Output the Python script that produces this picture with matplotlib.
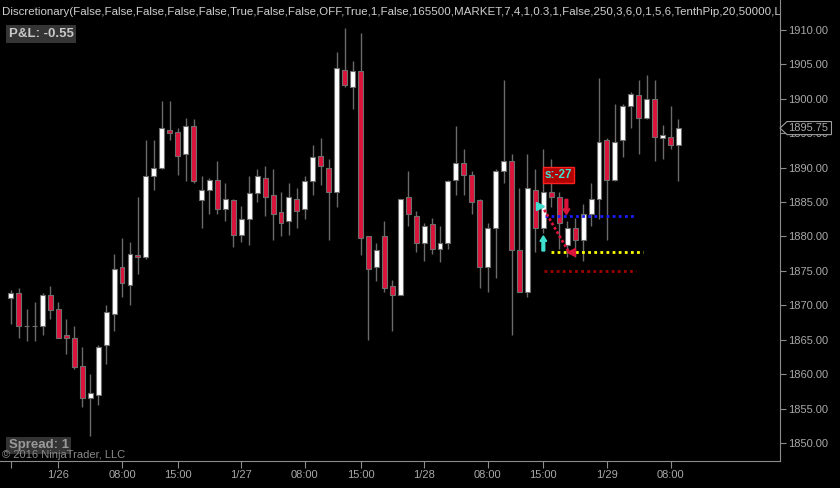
import numpy as np
import matplotlib
matplotlib.use('Agg')
from matplotlib import pyplot as plt
from matplotlib.patches import Polygon, FancyArrow

plt.rcParams['font.family'] = ['Liberation Sans', 'DejaVu Sans']

# hourly OHLC bars
opens = [1871.0, 1871.75, 1867.0, 1867.0, 1867.0, 1871.5, 1869.5, 1865.75, 1865.25, 1861.25,
         1856.5, 1857.0, 1864.25, 1868.75, 1875.5, 1873.0, 1877.25, 1877.0, 1888.75, 1890.0,
         1895.5, 1895.25, 1892.0, 1896.0, 1885.25, 1886.75, 1888.25, 1884.0, 1885.25, 1880.25,
         1882.5, 1886.25, 1888.5, 1886.0, 1883.5, 1882.25, 1885.5, 1884.0, 1888.0, 1891.75,
         1890.0, 1886.5, 1904.25, 1901.75, 1904.0, 1880.0, 1875.5, 1880.0, 1872.75, 1871.5,
         1885.75, 1883.0, 1879.0, 1881.75, 1878.25, 1879.0, 1888.25, 1890.75, 1889.0, 1885.25,
         1875.5, 1881.25, 1889.5, 1891.0, 1878.0, 1872.0, 1886.75, 1881.25, 1886.5, 1885.75,
         1878.75, 1881.25, 1879.5, 1883.25, 1885.5, 1894.0, 1888.25, 1894.0, 1899.0, 1900.5,
         1897.25, 1900.0, 1894.25, 1894.5, 1893.25]
highs = [1872.25, 1872.5, 1869.5, 1870.5, 1871.75, 1872.75, 1870.5, 1868.0, 1867.0, 1864.0,
         1860.0, 1864.25, 1870.0, 1877.5, 1879.75, 1879.25, 1885.75, 1894.0, 1894.0, 1899.75,
         1899.75, 1895.75, 1897.25, 1897.0, 1888.75, 1888.5, 1891.0, 1887.75, 1885.5, 1884.5,
         1888.75, 1889.75, 1890.25, 1889.75, 1886.5, 1887.75, 1887.0, 1888.75, 1893.25, 1894.25,
         1891.25, 1906.75, 1910.25, 1905.5, 1909.5, 1880.0, 1879.0, 1882.25, 1873.75, 1885.5,
         1889.5, 1883.75, 1882.0, 1882.75, 1881.5, 1888.25, 1896.0, 1892.75, 1889.5, 1885.5,
         1882.0, 1889.75, 1902.75, 1892.0, 1887.0, 1892.0, 1889.75, 1892.75, 1891.25, 1886.5,
         1882.25, 1882.75, 1884.75, 1887.75, 1903.0, 1894.25, 1899.25, 1899.25, 1901.0, 1902.75,
         1903.5, 1902.75, 1896.25, 1899.0, 1897.0]
lows = [1867.25, 1865.25, 1864.75, 1864.75, 1865.75, 1868.0, 1865.25, 1863.0, 1860.75, 1855.25,
        1851.0, 1855.5, 1861.5, 1866.25, 1871.25, 1870.0, 1874.5, 1876.75, 1886.75, 1889.75,
        1894.0, 1889.0, 1888.0, 1887.75, 1881.25, 1883.25, 1883.25, 1882.25, 1878.5, 1879.25,
        1878.75, 1885.0, 1883.0, 1879.5, 1880.0, 1880.25, 1881.25, 1882.5, 1886.0, 1887.5,
        1879.5, 1884.25, 1901.75, 1898.5, 1877.25, 1865.0, 1873.5, 1872.0, 1866.25, 1871.5,
        1881.5, 1877.75, 1876.5, 1877.5, 1876.25, 1878.25, 1886.0, 1886.0, 1883.25, 1872.5,
        1872.0, 1874.0, 1887.75, 1865.75, 1872.0, 1871.25, 1877.75, 1880.5, 1884.25, 1878.25,
        1877.0, 1877.0, 1876.5, 1881.5, 1882.5, 1879.5, 1888.0, 1891.5, 1895.75, 1892.0,
        1897.0, 1891.0, 1891.25, 1892.75, 1888.0]
closes = [1871.75, 1867.0, 1867.0, 1867.0, 1871.5, 1869.25, 1865.25, 1865.25, 1861.0, 1856.5,
          1857.25, 1864.0, 1869.0, 1875.25, 1873.25, 1877.5, 1877.0, 1888.75, 1890.0, 1895.75,
          1895.0, 1891.75, 1896.0, 1888.0, 1886.75, 1888.25, 1884.0, 1885.5, 1880.25, 1882.5,
          1886.25, 1888.75, 1885.75, 1883.25, 1882.0, 1885.75, 1883.75, 1888.0, 1891.5, 1890.25,
          1886.5, 1904.5, 1902.0, 1904.0, 1879.75, 1875.25, 1878.0, 1872.5, 1871.5, 1885.5,
          1883.25, 1879.0, 1881.5, 1878.25, 1879.0, 1888.0, 1890.75, 1889.0, 1885.0, 1875.5,
          1881.25, 1889.5, 1891.0, 1878.0, 1872.0, 1887.0, 1881.25, 1886.5, 1885.75, 1882.0,
          1881.25, 1879.5, 1883.25, 1885.5, 1893.75, 1888.25, 1893.75, 1899.0, 1900.75, 1897.25,
          1900.0, 1894.5, 1894.75, 1893.25, 1895.75]

# time axis labels (bar index -> label)
tick_bars = [0, 6, 14, 21, 29, 37, 44, 52, 60, 67, 75, 83]
tick_labels = ['', '1/26', '08:00', '15:00', '1/27', '08:00', '15:00', '1/28', '08:00', '15:00', '1/29', '08:00']

# trade drawn by the strategy
entry_bar, entry_price = 67, 1884.5
exit_bar, exit_price = 70, 1877.75
label_bar, label_price, label_text = 68.9, 1888.9, 's:-27'
# dotted levels: (price, start bar, end bar, colour)
level_prices = [1883.0, 1877.75, 1875.0]
level_starts = [67.2, 68.0, 67.1]
level_ends = [78.6, 79.5, 78.6]
level_colors = ['#1c1cff', '#ffff00', '#a00000']

title = ('Discretionary(False,False,False,False,False,True,False,False,OFF,True,1,False,165500,'
         'MARKET,7,4,1,0.3,1,False,250,3,6,0,1,5,6,TenthPip,20,50000,LONG)')
pnl_text = 'P&L: -0.55'
spread_text = 'Spread: 1'

o = np.array(opens)
h = np.array(highs)
l = np.array(lows)
c = np.array(closes)
x = np.arange(len(o))

fig = plt.figure(figsize=(8.4, 4.88), dpi=100, facecolor='black')
ax = fig.add_axes([0, 27 / 488, 780 / 840, 461 / 488])
ax.set_facecolor('black')

# candles
ax.vlines(x, l, h, color='#6a6a6a', lw=1, zorder=1)
body_col = np.where(c >= o, '#ffffff', '#dc143c')
ax.bar(x, np.abs(c - o), bottom=np.minimum(o, c), width=0.62, color=body_col,
       edgecolor='#6e6e6e', linewidth=0.8, zorder=2)

# levels
for p, s, e, col in zip(level_prices, level_starts, level_ends, level_colors):
    ax.plot([s, e], [p, p], color=col, lw=2, linestyle=(0, (1, 1.2)), zorder=3)

# entry -> exit
ax.plot([entry_bar - 0.2, exit_bar + 0.2], [entry_price, exit_price], color='#dc143c',
        lw=2, linestyle=(0, (1, 0.8)), zorder=4)
ax.plot(entry_bar - 0.45, entry_price, marker='>', color='#40e0d0', markersize=6, zorder=5)
ax.plot(exit_bar + 0.45, exit_price, marker='<', color='#dc143c', markersize=6, zorder=5)
ax.add_patch(FancyArrow(entry_bar, entry_price - 6.6, 0, 2.2, width=0.35, head_width=0.85,
                        head_length=0.8, length_includes_head=True, color='#40e0d0', zorder=5))
ax.add_patch(FancyArrow(exit_bar - 0.1, entry_price + 0.9, 0, -2.2, width=0.35, head_width=0.85,
                        head_length=0.8, length_includes_head=True, color='#dc143c', zorder=5))
ax.text(label_bar, label_price, label_text, color='#40e0d0', fontsize=8.5, fontweight='bold',
        ha='center', va='center', zorder=6,
        bbox=dict(boxstyle='square,pad=0.15', fc='#b00000', ec='#ff2020', lw=1))

ax.set_xlim(-1.35, 96.77)
ax.set_ylim(1847.385, 1914.358)

# axes styling
for s in ['left', 'top']:
    ax.spines[s].set_visible(False)
for s in ['right', 'bottom']:
    ax.spines[s].set_color('#8c8c8c')
ax.yaxis.tick_right()
ax.set_yticks(np.arange(1850, 1911, 5))
ax.set_yticklabels(['%.2f' % v for v in np.arange(1850, 1911, 5)])
ax.set_xticks(tick_bars)
ax.set_xticklabels(tick_labels)
ax.tick_params(axis='y', colors='#8c8c8c', labelcolor='#a8a8a8', labelsize=8, length=4.5, pad=1)
ax.tick_params(axis='x', colors='#8c8c8c', labelcolor='#a8a8a8', labelsize=8, length=5, pad=1.5)

# last price marker
last = c[-1]
tr = ax.get_yaxis_transform()
ax.add_patch(Polygon([[1.0, last], [1.009, last + 0.95], [1.066, last + 0.95],
                      [1.066, last - 0.95], [1.009, last - 0.95]], closed=True, transform=tr,
                     fc='black', ec='#a0a0a0', lw=0.8, clip_on=False, zorder=10))
ax.text(1.01, last, '%.2f' % last, transform=tr, color='#a8a8a8', fontsize=8,
        va='center', ha='left', clip_on=False, zorder=11)

# texts
ax.text(0.003, 0.974, title, transform=ax.transAxes, color='#d0d0d0', fontsize=8.25,
        va='center', ha='left', clip_on=True)
ax.text(0.011, 0.926, pnl_text, transform=ax.transAxes, color='#c8c8c8', fontsize=9.5,
        fontweight='bold', va='center', ha='left',
        bbox=dict(boxstyle='square,pad=0.2', fc='#353535', ec='none'))
ax.text(0.011, 0.034, spread_text, transform=ax.transAxes, color='#9a9a9a', fontsize=9.5,
        fontweight='bold', va='center', ha='left',
        bbox=dict(boxstyle='square,pad=0.2', fc='#333333', ec='none'))
ax.text(0.003, 0.012, '\u00a9 2016 NinjaTrader, LLC', transform=ax.transAxes, color='#8a8a8a',
        fontsize=8, va='center', ha='left')

plt.savefig('out.png', dpi=100, facecolor='black')
